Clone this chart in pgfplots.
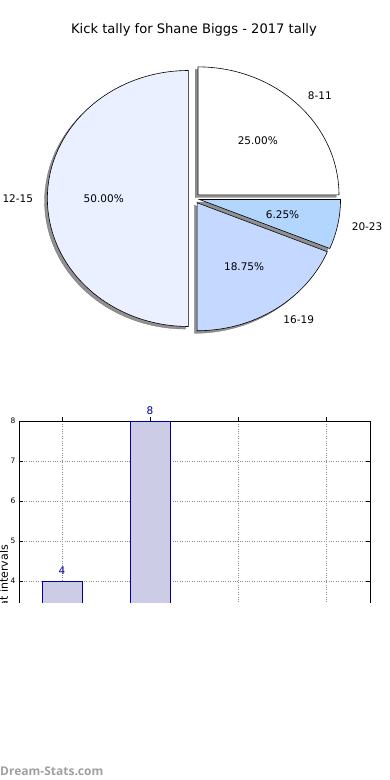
\documentclass[border=0pt]{standalone}
\usepackage{pgfplots}
\pgfplotsset{compat=1.18}
\usepackage{pgfplotstable}
\usepackage{fontspec}
\setmainfont{DejaVu Sans}
\newfontfamily\wmfont{Open Sans}
\definecolor{c811}{RGB}{255,255,255}
\definecolor{c1215}{RGB}{234,240,255}
\definecolor{c1619}{RGB}{197,216,255}
\definecolor{c2023}{RGB}{179,214,255}
\definecolor{barfill}{RGB}{204,204,230}
\definecolor{baredge}{RGB}{0,0,160}
\definecolor{shad}{RGB}{145,145,145}
\definecolor{wmgray}{RGB}{160,160,160}

\pgfplotstableread{
label count
8-11 4
12-15 8
16-19 3
20-23 1
}\piedata
\pgfplotstableread{
x count
0 4
1 8
2 3
3 1
}\bardata

\newcommand\pielabfont{\fontsize{10.5}{12}\selectfont}
\newcommand\pieshadow[2]{%
  \addplot[draw=black!55, line width=0.3pt, fill=shad, domain=#1:#2, samples=90, variable=\t]
   ({0.04*cos((#1+#2)/2)-0.02+cos(\t)}, {0.04*sin((#1+#2)/2)-0.02+sin(\t)})
   -- (axis cs:{0.04*cos((#1+#2)/2)-0.02}, {0.04*sin((#1+#2)/2)-0.02}) -- cycle;
}
\newcommand\pieslice[3]{%
  \addplot[draw=black, line width=0.6pt, fill=#3, domain=#1:#2, samples=90, variable=\t]
   ({0.04*cos((#1+#2)/2)+cos(\t)}, {0.04*sin((#1+#2)/2)+sin(\t)})
   -- (axis cs:{0.04*cos((#1+#2)/2)}, {0.04*sin((#1+#2)/2)}) -- cycle;
}
\newcommand\pielabel[5]{%
  \node[anchor=#5, inner sep=0pt, font=\pielabfont] at (axis cs:{1.14*cos((#1+#2)/2)}, {1.14*sin((#1+#2)/2)}) {#3};
  \node[anchor=center, inner sep=0pt, font=\pielabfont] at (axis cs:{0.64*cos((#1+#2)/2)}, {0.64*sin((#1+#2)/2)}) {#4};
}

\begin{document}
\begin{tikzpicture}
\useasboundingbox (0pt,0pt) rectangle (390pt,780pt);
\pgfplotstablegetelem{0}{count}\of\piedata \pgfmathsetmacro\nA{\pgfplotsretval}
\pgfplotstablegetelem{1}{count}\of\piedata \pgfmathsetmacro\nB{\pgfplotsretval}
\pgfplotstablegetelem{2}{count}\of\piedata \pgfmathsetmacro\nC{\pgfplotsretval}
\pgfplotstablegetelem{3}{count}\of\piedata \pgfmathsetmacro\nD{\pgfplotsretval}
\pgfmathsetmacro\tot{\nA+\nB+\nC+\nD}
\pgfmathsetmacro\aA{0}
\pgfmathsetmacro\aB{360*\nA/\tot}
\pgfmathsetmacro\aC{\aB+360*\nB/\tot}
\pgfmathsetmacro\aD{\aC+360*\nC/\tot}
\pgfmathsetmacro\aE{\aD+360*\nD/\tot}

\node[font=\fontsize{13.1}{15}\selectfont, inner sep=0pt] at (194pt,750pt) {Kick tally for Shane Biggs - 2017 tally};

\begin{axis}[at={(194pt,581.5pt)}, anchor=center, scale only axis,
  width=396.2pt, height=307.2pt,
  xmin=-1.405, xmax=1.405, ymin=-1.2, ymax=1.2, hide axis, clip=false]
  \pieshadow{\aA}{\aB}
  \pieshadow{\aB}{\aC}
  \pieshadow{\aC}{\aD}
  \pieshadow{\aD}{\aE}
  \pieslice{\aA}{\aB}{c811}
  \pieslice{\aB}{\aC}{c1215}
  \pieslice{\aC}{\aD}{c1619}
  \pieslice{\aD}{\aE}{c2023}
  \pielabel{\aA}{\aB}{8-11}{25.00\%}{west}
  \pielabel{\aB}{\aC}{12-15}{50.00\%}{east}
  \pielabel{\aC}{\aD}{16-19}{18.75\%}{west}
  \pielabel{\aD}{\aE}{20-23}{6.25\%}{west}
\end{axis}

\begin{scope}
\clip (0pt,177pt) rectangle (390pt,400pt);
\begin{axis}[at={(19pt,39pt)}, anchor=south west, scale only axis,
  width=351pt, height=320pt,
  xmin=-0.489, xmax=3.5, ymin=0, ymax=8,
  xtick={0,1,2,3}, xticklabels={8-11,12-15,16-19,20-23},
  ytick={0,1,2,3,4,5,6,7,8},
  tick align=inside, major tick length=4pt,
  tick style={black, line width=0.5pt},
  axis line style={line width=0.6pt},
  grid=major, major grid style={dotted, black!45, line width=0.6pt},
  /pgf/number format/assume math mode=true,
  tick label style={font=\fontsize{7.5}{9}\selectfont},
  ybar, bar width=39.6pt,
  nodes near coords,
  every node near coord/.append style={font=\fontsize{10.5}{12}\selectfont, text=baredge, yshift=2.5pt},
  ]
  \addplot[fill=barfill, draw=baredge, line width=0.6pt] table[x=x, y=count] {\bardata};
\end{axis}
\node[rotate=90, anchor=base east, inner sep=0pt, font=\fontsize{11}{13}\selectfont] at (8pt,235pt) {Kicks at intervals};
\end{scope}

\node[anchor=base west, inner sep=0pt, text=wmgray, font=\wmfont\bfseries\fontsize{12}{14}\selectfont] at (0pt,5pt) {Dream-Stats.com};
\end{tikzpicture}
\end{document}
